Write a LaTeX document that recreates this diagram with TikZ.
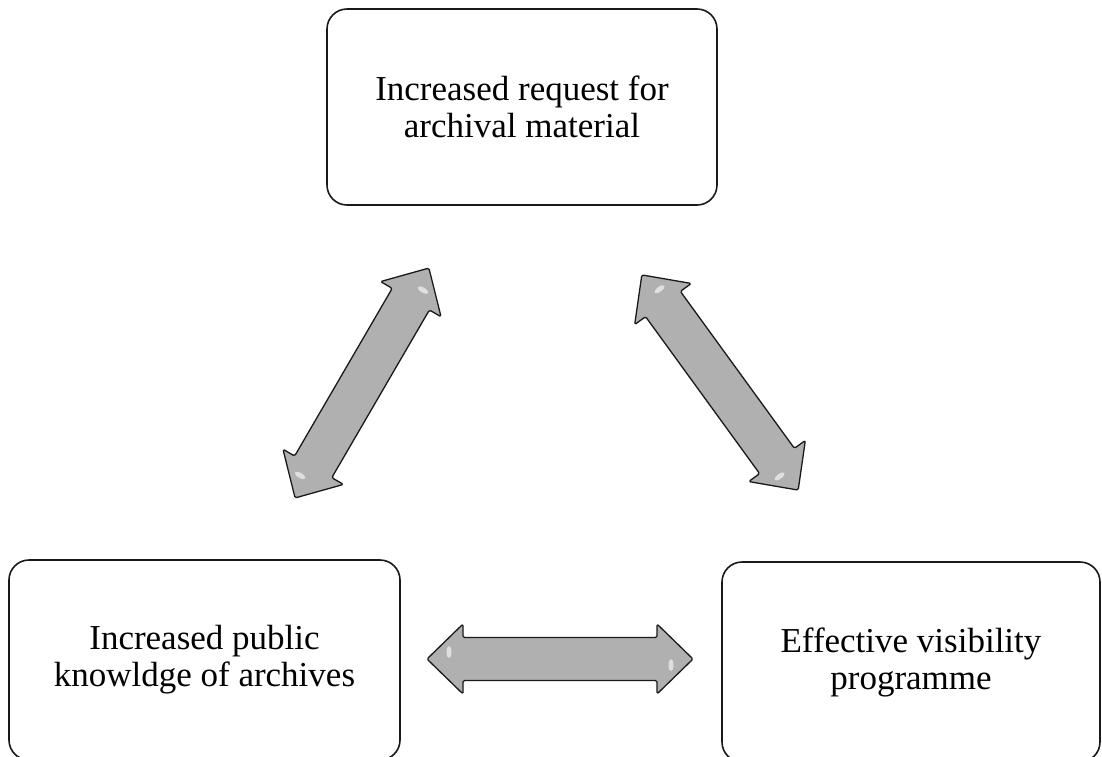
\documentclass[tikz,border=0pt]{standalone}
\usepackage{fontspec}
\setmainfont{Liberation Serif}
\tikzset{
  box/.style={draw=black!90, line width=1.6pt, rounded corners=20pt, align=center,
    font=\fontsize{35}{37}\selectfont, inner sep=0pt},
  blockarrow/.style={draw=black!90, line width=1.3pt, fill=black!31, rounded corners=1.5pt, line join=round},
  shine/.style={fill=white, fill opacity=0.6, draw=none},
}
\newcommand{\dblblock}[2]{%
  \begin{scope}[shift={(#1)}, rotate=#2]
    \path[blockarrow] (-133,0) -- (-97,35) -- (-97,21.5) -- (97,21.5) -- (97,35) -- (133,0)
      -- (97,-35) -- (97,-21.5) -- (-97,-21.5) -- (-97,-35) -- cycle;
    \path[shine] (-111,7) ellipse [x radius=2.5, y radius=6];
    \path[shine] (111,-6) ellipse [x radius=2.5, y radius=6];
  \end{scope}}
\begin{document}
\begin{tikzpicture}[x=1pt, y=1pt]
  \useasboundingbox (0,0) rectangle (1102,-756);
  \clip (0,0) rectangle (1102,-756);
  \node[box, minimum width=390pt, minimum height=196pt] (top) at (522,-107)
    {Increased request for\\archival material};
  \node[box, minimum width=391pt, minimum height=200pt] (left) at (204.5,-660)
    {Increased public\\knowldge of archives};
  \node[box, minimum width=378pt, minimum height=200pt] (right) at (911,-662)
    {Effective visibility\\programme};
  \coordinate (arrL) at (362,-383);
  \coordinate (arrR) at (720,-382.5);
  \coordinate (arrB) at (560,-659);
  \dblblock{arrL}{59.8}
  \dblblock{arrR}{126}
  \dblblock{arrB}{0}
\end{tikzpicture}
\end{document}
